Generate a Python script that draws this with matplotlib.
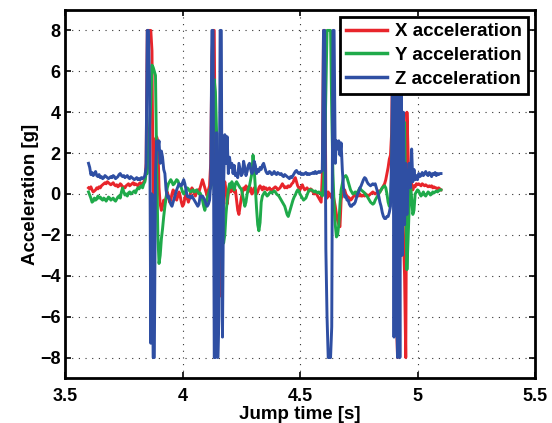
import numpy as np
import matplotlib
matplotlib.use("Agg")
import matplotlib.pyplot as plt

# Accelerometer record of four jumps, sampled every 5 ms from t = 3.6 s
t_start = 3.6
sample_period = 0.005

acc_x = [
    0.3, 0.25, 0.35, 0.2, 0.1, 0.15, 0.2, 0.3, 0.25, 0.35,
    0.3, 0.4, 0.45, 0.5, 0.55, 0.5, 0.6, 0.55, 0.5, 0.45,
    0.5, 0.55, 0.45, 0.4, 0.45, 0.35, 0.4, 0.5, 0.45, 0.3,
    0.35, 0.3, 0.4, 0.45, 0.5, 0.4, 0.45, 0.5, 0.55, 0.45,
    0.5, 0.45, 0.4, 0.5, 0.55, 0.5, 0.45, 0.6, 0.7, 1.5,
    8, 8, 8, 8, 7, -0.2, 0.5, 2.7, 2.8, 2.6,
    0.3, -0.5, -0.8, -0.6, -0.3, -0.4, -0.2, 0.1, -0.1, -0.4,
    -0.3, 0.0, 0.2, 0.1, -0.2, -0.3, -0.1, 0.1, -0.1, -0.4,
    -0.6, -0.5, -0.2, 0.0, -0.2, -0.4, -0.2, 0.1, 0.3, 0.2,
    0.0, -0.1, 0.1, 0.2, 0.1, 0.3, 0.5, 0.7, 0.5, 0.3,
    0.1, -0.1, 0.2, 0.4, 1.5, 6.7, 8, 8, 0.5, -1.0,
    0.5, -2.0, -3.5, -5.0, -2.0, 0.3, 0.6, 0.2, -0.5, 0.0,
    0.3, 0.1, 0.2, 0.35, 0.1, 0.2, -0.3, -0.8, -1.0, -0.6,
    -0.2, 0.1, 0.3, 0.2, 0.4, 0.3, 0.1, 0.2, 0.3, 0.0,
    0.1, 0.3, 0.2, 0.0, 0.1, 0.3, 0.4, 0.3, 0.2, 0.35,
    0.25, 0.3, 0.2, 0.25, 0.3, 0.2, 0.15, 0.25, 0.3, 0.35,
    0.3, 0.2, 0.25, 0.3, 0.4, 0.5, 0.4, 0.3, 0.35, 0.3,
    0.4, 0.35, 0.4, 0.5, 0.55, 0.7, 0.8, 0.6, 0.4, 0.3,
    0.2, 0.35, 0.45, 0.3, 0.2, 0.25, 0.3, 0.2, 0.15, 0.25,
    0.2, 0.1, 0.0, 0.1, 0.0, -0.1, -0.2, -0.3, -0.4, 1.0,
    8, 8, 0.0, -0.2, 0.1, -0.1, 0.0, -0.2, 0.0, -0.3,
    -0.6, -1.0, -1.3, -1.5, -1.6, -0.3, 0.1, 0.15, 0.2, 0.0,
    -0.1, -0.15, -0.2, -0.3, -0.25, -0.15, -0.1, -0.05, -0.1, -0.05,
    -0.1, 0.0, -0.1, -0.1, -0.05, -0.1, 0.0, -0.05, -0.1, -0.05,
    0.0, 0.05, 0.1, 0.05, 0.0, 0.05, 0.1, 0.15, 0.1, 0.2,
    0.3, 0.4, 0.5, 0.7, 1.0, 1.3, 1.7, 1.9, 3.0, 8,
    2, -3, -6, -8, -2, 1, -1, 0.5, -2, -4,
    -8, 4.0, 2, -0.5, 1.0, 0.5, 0.2, 0.4, 0.35, 0.5,
    0.45, 0.5, 0.45, 0.4, 0.5, 0.45, 0.4, 0.45, 0.4, 0.35,
    0.4, 0.35, 0.4, 0.3, 0.35, 0.3, 0.3, 0.25, 0.3, 0.25,
    0.2,
]

acc_y = [
    0.1, -0.05, -0.2, -0.4, -0.35, -0.2, -0.3, -0.25, -0.1, -0.2,
    -0.15, -0.25, -0.3, -0.2, -0.25, -0.35, -0.25, -0.15, -0.2, -0.3,
    -0.25, -0.2, -0.3, -0.35, -0.25, -0.15, -0.1, -0.2, 0.1, 0.3,
    0.1, -0.05, 0.0, -0.1, 0.05, 0.1, 0.0, 0.05, 0.1, 0.15,
    0.05, 0.2, 0.3, 0.25, 0.35, 0.4, 0.3, 0.5, 0.6, 1.0,
    1.0, 2.0, 3.4, 4.5, 6.3, 6.2, 6.0, 5.8, 1.5, -2.0,
    -3.4, -3.0, -2.2, -1.7, -1.1, -0.6, -0.2, 0.3, 0.5, 0.6,
    0.7, 0.6, 0.45, 0.5, 0.6, 0.7, 0.65, 0.5, 0.4, 0.3,
    0.1, 0.0, 0.05, 0.2, 0.3, 0.25, 0.15, 0.1, 0.15, 0.2,
    0.1, 0.15, 0.2, 0.1, 0.0, 0.05, -0.1, -0.3, -0.6, -0.8,
    -0.5, -0.2, 0.0, 0.2, 0.3, 0.5, 2.0, 5.6, 5.0, 3.0,
    1.0, -0.5, 0.5, -1.0, -2.0, -2.4, -2.0, -1.0, -0.3, 0.2,
    0.5, 0.3, 0.6, 0.4, 0.2, 0.5, 0.6, 0.5, 0.4, 0.3,
    0.25, 0.0, -0.3, -0.6, -0.4, 0.0, 0.25, 0.4, 0.7, 1.0,
    1.9, 1.2, 0.3, -0.7, -1.5, -1.8, -1.4, -0.4, -0.1, 0.0,
    0.1, 0.0, -0.1, -0.05, 0.05, 0.1, 0.05, 0.1, 0.15, 0.1,
    0.0, -0.05, -0.1, -0.2, -0.3, -0.4, -0.5, -0.6, -0.8, -1.0,
    -1.1, -0.9, -0.7, -0.5, -0.3, -0.15, -0.05, 0.1, 0.2, 0.15,
    0.0, -0.1, -0.2, -0.3, -0.25, -0.2, -0.05, 0.1, 0.2, 0.2,
    0.2, 0.15, 0.1, 0.15, 0.1, 0.05, 0.1, 0.05, 0.0, -0.1,
    0.5, 2.0, 5.0, 8, 8, 8, 8, 4.0, 1.0, -0.5,
    -1.5, -2.1, -2.0, -1.5, -0.5, 0.2, 0.5, 0.8, 0.85, 0.9,
    0.8, 0.6, 0.4, 0.2, 0.1, 0.0, 0.05, 0.1, 0.0, 0.1,
    0.2, 0.3, 0.2, 0.15, 0.1, 0.05, -0.05, -0.1, -0.2, -0.3,
    -0.4, -0.45, -0.5, -0.45, -0.3, -0.2, -0.1, 0.0, 0.1, 0.2,
    0.3, 0.35, 0.4, 0.3, 0.0, -0.4, -0.6, -0.3, 1.0, 5.0,
    8, 2.0, -5.0, -7.4, -3.0, 6.0, 1.0, -2.0, 0.5, 3.5,
    -1.0, -3.7, -2.2, -0.5, 0.5, -0.2, -1.0, -0.8, 0.0, 0.1,
    0.2, 0.15, 0.0, -0.1, 0.0, 0.1, -0.05, -0.1, 0.0, 0.1,
    0.05, -0.05, 0.0, 0.1, 0.05, 0.1, 0.15, 0.1, 0.15, 0.2,
    0.2,
]

acc_z = [
    1.5, 1.3, 0.95, 1.05, 0.9, 1.0, 1.1, 0.9, 0.85, 0.95,
    0.8, 0.85, 0.75, 0.8, 0.9, 0.85, 0.8, 0.75, 0.8, 0.85,
    0.8, 0.9, 0.85, 0.75, 0.8, 0.85, 0.95, 1.0, 0.9, 0.85,
    0.9, 0.8, 0.85, 0.9, 0.8, 0.75, 0.85, 0.8, 0.75, 0.7,
    0.75, 0.8, 0.7, 0.75, 0.7, 0.8, 0.75, 0.8, 0.9, 1.3,
    8, 8, 5, -7.3, 0, -8, -8, 1.0, 2.6, 2.2,
    2.6, 1.5, 2.1, 1.8, 1.2, 1.0, 0.2, -0.15, -0.1, -0.3,
    -0.5, -0.6, -0.4, -0.2, 0.0, 0.2, 0.35, 0.5, 0.45, 0.4,
    0.55, 0.7, 0.5, 0.2, -0.1, -0.15, -0.1, -0.2, -0.1, -0.2,
    -0.3, -0.4, -0.5, -0.6, -0.5, -0.1, -0.15, -0.1, -0.2, -0.3,
    -0.5, -0.6, -0.5, -0.3, 0.5, 8, 8, -8, -8, 3,
    -8, -6, 8, 8, -7, 0.5, 2.9, 1.5, 2.8, 1.0,
    1.8, 1.3, 1.5, 1.0, 1.4, 0.9, 1.0, 0.8, 1.5, 1.2,
    0.9, 1.0, 1.6, 1.3, 0.9, 1.1, 1.4, 1.5, 1.2, 1.0,
    1.1, 1.6, 1.4, 1.0, 1.2, 1.1, 1.3, 1.2, 1.4, 1.5,
    1.3, 1.1, 1.0, 1.0, 1.1, 1.05, 0.95, 1.0, 1.1, 1.0,
    0.95, 1.05, 1.0, 0.95, 1.0, 0.9, 0.85, 0.95, 0.9, 0.85,
    0.8, 0.75, 0.85, 0.8, 0.9, 1.0, 1.1, 1.15, 1.05, 1.0,
    1.05, 0.95, 1.0, 0.95, 1.0, 1.05, 0.95, 1.0, 0.95, 1.0,
    1.0, 1.05, 1.0, 1.1, 1.0, 1.05, 1.1, 1.05, 1.1, 1.15,
    8, 8, -2.7, -6.0, -8, -8, -8, -6.5, 8, 8,
    1.5, 2.6, 2.2, 2.6, 1.9, 2.5, 1.2, 0.3, -0.15, -0.1,
    -0.3, -0.3, -0.5, -0.6, -0.6, -0.5, -0.5, -0.4, -0.2, 0.0,
    0.1, 0.3, 0.4, 0.55, 0.7, 0.8, 0.75, 0.6, 0.5, 0.45,
    0.4, 0.45, 0.5, 0.45, 0.5, 0.3, 0.1, -0.1, -0.4, -0.6,
    -0.9, -1.1, -1.2, -1.2, -1.1, -1.1, -0.9, -0.6, 2.0, 8,
    -7.0, 8, -4.5, -8, 6, -8, 8, -3, 4, -1.5,
    1.5, -1.0, 0.5, 1.5, 0.3, 2.2, 0.6, 1.2, 0.7, 0.9,
    0.7, 1.0, 0.85, 0.9, 1.05, 0.9, 1.0, 1.1, 0.95, 0.9,
    1.05, 1.0, 0.85, 1.0, 0.95, 1.05, 0.9, 1.0, 0.95, 1.0,
    1.0,
]

series_labels = ["X acceleration", "Y acceleration", "Z acceleration"]
series_colors = ["#e8252b", "#1faa4a", "#2f4fa3"]

x_ticks = [3.5, 4, 4.5, 5, 5.5]
x_tick_labels = ["3.5", "4", "4.5", "5", "5.5"]
y_ticks = [-8, -6, -4, -2, 0, 2, 4, 6, 8]

time = t_start + sample_period * np.arange(len(acc_x))

plt.rcParams["font.family"] = ["Liberation Sans", "DejaVu Sans"]
plt.rcParams["font.weight"] = "bold"

fig = plt.figure(figsize=(5.52, 4.23), dpi=100)
ax = fig.add_axes([0.1178, 0.1064, 0.8514, 0.8700])

for values, label, color in zip([acc_x, acc_y, acc_z], series_labels, series_colors):
    ax.plot(time, values, color=color, linewidth=2.1, label=label)

ax.set_xlim(3.5, 5.5)
ax.set_ylim(-9, 9)
ax.set_xticks(x_ticks)
ax.set_xticklabels(x_tick_labels)
ax.set_yticks(y_ticks)
ax.set_yticklabels([f"{v}".replace("-", "\u2212") for v in y_ticks])

ax.grid(True, color="#333333", linestyle=(0, (1, 5)), linewidth=0.8)
ax.set_axisbelow(True)
ax.tick_params(direction="in", length=4, width=1.2, top=True, right=True,
               labelsize=13)
ax.tick_params(axis="x", pad=7)
ax.tick_params(axis="y", pad=3)
for label in ax.get_xticklabels() + ax.get_yticklabels():
    label.set_fontweight("bold")
for spine in ax.spines.values():
    spine.set_linewidth(2.0)

ax.set_xlabel("Jump time [s]", fontsize=13.5, fontweight="bold", labelpad=1)
ax.set_ylabel("Acceleration [g]", fontsize=13.5, fontweight="bold", labelpad=1)

leg = ax.legend(loc="upper right", fontsize=13.5, handlelength=2.2,
                handletextpad=0.4, labelspacing=0.35, borderpad=0.35,
                borderaxespad=0.35, fancybox=False, framealpha=1.0)
leg.get_frame().set_edgecolor("black")
leg.get_frame().set_linewidth(2.0)
for text in leg.get_texts():
    text.set_fontweight("bold")
for line in leg.get_lines():
    line.set_linewidth(2.5)

fig.savefig("out.png", dpi=100)
